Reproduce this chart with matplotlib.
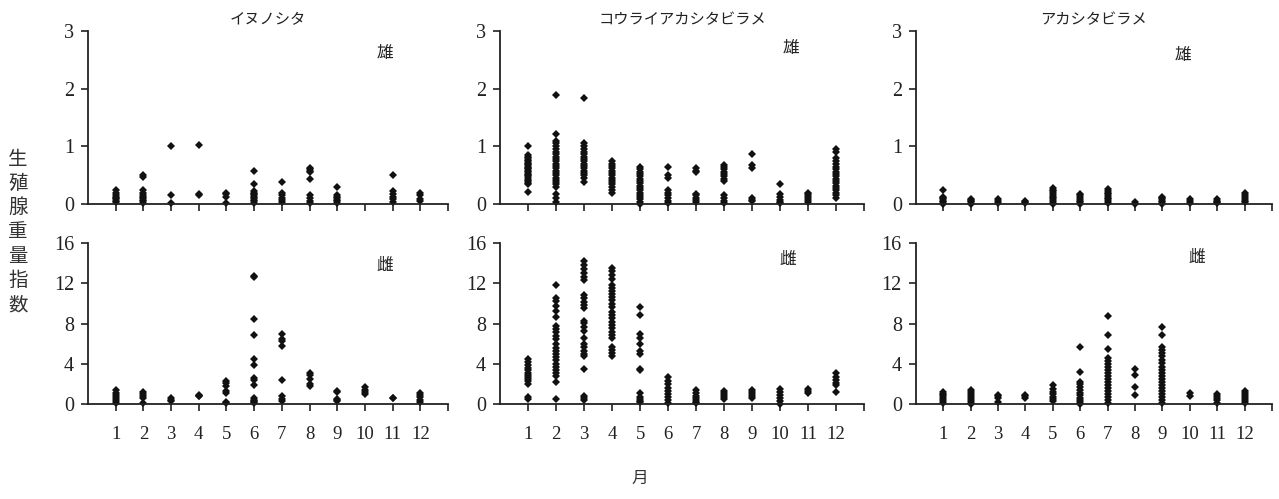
import numpy as np
import matplotlib
matplotlib.use('Agg')
import matplotlib.pyplot as plt

# values, one list per month (1..12)
months = list(range(1, 13))
species = ['イヌノシタ', 'コウライアカシタビラメ', 'アカシタビラメ']

inu_male = [
    [0.25, 0.2, 0.15, 0.12, 0.1, 0.08, 0.05, 0.03],
    [0.5, 0.47, 0.25, 0.2, 0.15, 0.12, 0.1, 0.07, 0.05, 0.02],
    [1.0, 0.15, 0.02],
    [1.03, 0.18, 0.15],
    [0.2, 0.17, 0.12, 0.02],
    [0.58, 0.35, 0.22, 0.2, 0.17, 0.15, 0.12, 0.1, 0.07, 0.05, 0.02],
    [0.38, 0.2, 0.15, 0.1, 0.07, 0.03],
    [0.62, 0.6, 0.57, 0.55, 0.43, 0.15, 0.1, 0.05, 0.02],
    [0.3, 0.15, 0.12, 0.1, 0.07, 0.05, 0.02],
    [],
    [0.5, 0.22, 0.18, 0.13, 0.08, 0.03],
    [0.2, 0.15, 0.08, 0.05],
]
inu_female = [
    [1.4, 1.1, 0.9, 0.7, 0.5, 0.3, 0.1],
    [1.2, 1.0, 0.8, 0.6, 0.1],
    [0.6, 0.45, 0.3],
    [0.95, 0.85, 0.8],
    [2.3, 2.1, 1.8, 1.3, 1.1, 0.2, 0.1],
    [12.7, 12.6, 8.5, 6.9, 4.5, 3.9, 2.6, 2.4, 1.9, 0.6, 0.4, 0.3, 0.2, 0.1],
    [7.0, 6.5, 6.3, 5.8, 2.4, 0.8, 0.5, 0.3],
    [3.1, 2.9, 2.5, 2.0, 1.8],
    [1.3, 1.2, 0.5, 0.4, 0.3],
    [1.7, 1.4, 1.2, 1.0],
    [0.65, 0.6],
    [1.1, 0.9, 0.7, 0.4, 0.2],
]
kourai_male = [
    [1.0, 0.85, 0.82, 0.8, 0.77, 0.75, 0.72, 0.7, 0.68, 0.65, 0.62, 0.6, 0.58,
     0.55, 0.52, 0.5, 0.48, 0.45, 0.42, 0.4, 0.37, 0.35, 0.21],
    [1.89, 1.21, 1.1, 1.05, 1.0, 0.95, 0.9, 0.86, 0.82, 0.78, 0.74, 0.7, 0.66,
     0.62, 0.58, 0.54, 0.5, 0.46, 0.42, 0.38, 0.34, 0.3, 0.18, 0.1, 0.03],
    [1.84, 1.05, 1.0, 0.95, 0.9, 0.86, 0.82, 0.78, 0.74, 0.7, 0.66, 0.62, 0.58,
     0.54, 0.5, 0.45, 0.38],
    [0.75, 0.7, 0.66, 0.62, 0.58, 0.54, 0.5, 0.46, 0.42, 0.38, 0.34, 0.3, 0.25, 0.2],
    [0.65, 0.6, 0.56, 0.52, 0.48, 0.44, 0.4, 0.36, 0.32, 0.28, 0.24, 0.2, 0.16,
     0.12, 0.08, 0.04, 0.01],
    [0.65, 0.5, 0.45, 0.25, 0.2, 0.15, 0.1, 0.05, 0.02],
    [0.62, 0.57, 0.55, 0.18, 0.15, 0.1, 0.07, 0.04],
    [0.68, 0.65, 0.6, 0.56, 0.52, 0.48, 0.44, 0.4, 0.15, 0.1, 0.05, 0.02],
    [0.87, 0.67, 0.62, 0.1, 0.07, 0.05],
    [0.35, 0.18, 0.12, 0.07, 0.04, 0.02],
    [0.2, 0.17, 0.14, 0.1, 0.07, 0.04],
    [0.95, 0.9, 0.8, 0.75, 0.7, 0.65, 0.6, 0.56, 0.52, 0.48, 0.44, 0.4, 0.36,
     0.32, 0.28, 0.24, 0.2, 0.15, 0.1],
]
kourai_female = [
    [4.5, 4.2, 3.9, 3.6, 3.4, 3.1, 2.9, 2.7, 2.5, 2.3, 2.0, 0.7, 0.5],
    [11.8, 10.5, 10.2, 9.7, 9.3, 8.7, 7.8, 7.5, 7.2, 6.8, 6.5, 6.0, 5.6, 5.3,
     5.0, 4.7, 4.4, 4.0, 3.7, 3.4, 3.1, 2.8, 2.2, 0.5],
    [14.2, 13.8, 13.4, 13.0, 12.6, 12.3, 10.8, 10.5, 10.1, 9.8, 9.5, 8.3, 8.1,
     7.7, 7.3, 6.6, 6.0, 5.7, 5.3, 5.0, 4.8, 3.5, 0.8, 0.6, 0.4],
    [13.5, 13.2, 12.8, 12.4, 11.8, 11.5, 11.2, 10.9, 10.6, 10.3, 9.9, 9.6, 9.2,
     8.9, 8.6, 8.2, 7.9, 7.6, 7.2, 6.9, 6.6, 5.7, 5.4, 5.1, 4.8],
    [9.6, 8.9, 7.0, 6.6, 6.0, 5.3, 5.0, 3.5, 3.4, 1.1, 0.7, 0.5, 0.3, 0.2],
    [2.7, 2.3, 2.0, 1.6, 1.3, 1.0, 0.7, 0.4, 0.1],
    [1.4, 1.1, 0.8, 0.6, 0.4, 0.2, 0.1],
    [1.3, 1.1, 0.9, 0.7, 0.5],
    [1.4, 1.2, 1.0, 0.8, 0.6],
    [1.5, 1.2, 0.9, 0.6, 0.3, 0.0],
    [1.5, 1.3, 1.1],
    [3.1, 2.7, 2.4, 2.1, 1.9, 1.2],
]
aka_male = [
    [0.25, 0.12, 0.1, 0.08, 0.05, 0.03, 0.01],
    [0.09, 0.07, 0.05, 0.03, 0.01],
    [0.08, 0.05, 0.02],
    [0.06, 0.04, 0.02],
    [0.28, 0.25, 0.22, 0.19, 0.16, 0.13, 0.1, 0.07, 0.04, 0.01],
    [0.18, 0.15, 0.12, 0.09, 0.06, 0.03, 0.01],
    [0.26, 0.23, 0.2, 0.17, 0.14, 0.11, 0.08, 0.05, 0.02],
    [0.03, 0.01],
    [0.12, 0.1, 0.08, 0.05, 0.03, 0.01],
    [0.08, 0.05, 0.02],
    [0.08, 0.06, 0.04, 0.02],
    [0.2, 0.16, 0.12, 0.09, 0.06, 0.03],
]
aka_female = [
    [1.2, 1.0, 0.9, 0.7, 0.5, 0.3, 0.1],
    [1.4, 1.2, 1.0, 0.8, 0.6, 0.4, 0.2, 0.0],
    [0.9, 0.8, 0.6, 0.2],
    [0.9, 0.8, 0.6],
    [1.9, 1.5, 1.2, 1.0, 0.7, 0.5, 0.3],
    [5.7, 3.2, 2.2, 2.0, 1.7, 1.4, 1.1, 0.9, 0.6, 0.4, 0.2, 0.0],
    [8.8, 6.9, 5.5, 4.6, 4.3, 4.0, 3.7, 3.4, 3.1, 2.8, 2.5, 2.2, 1.9, 1.6, 1.3,
     1.0, 0.7, 0.4, 0.1],
    [3.5, 2.9, 1.7, 0.95],
    [7.7, 6.9, 5.7, 5.4, 5.1, 4.8, 4.4, 4.1, 3.7, 3.4, 3.1, 2.8, 2.5, 2.2, 1.9,
     1.6, 1.3, 1.0, 0.7, 0.4, 0.1],
    [1.1, 0.8],
    [1.0, 0.8, 0.6, 0.4, 0.1],
    [1.3, 1.1, 0.9, 0.7, 0.5, 0.3, 0.1],
]

male_ticks = [0, 1, 2, 3]
female_ticks = [0, 4, 8, 12, 16]

plt.rcParams['font.family'] = ['Liberation Serif', 'Noto Sans CJK JP']
jp = ['Noto Sans CJK JP', 'DejaVu Sans']

fig = plt.figure(figsize=(12.79, 4.99), dpi=100)

lefts = [0.0688, 0.391, 0.716]
widths = [0.2815, 0.2846, 0.2785]
rows = [(0.591, 0.347), (0.190, 0.323)]
sex_pos = [[(0.825, 0.87), (0.80, 0.90), (0.75, 0.86)],
           [(0.825, 0.86), (0.79, 0.90), (0.79, 0.91)]]

panels = [[inu_male, kourai_male, aka_male], [inu_female, kourai_female, aka_female]]

for r in range(2):
    for c in range(3):
        ax = fig.add_axes([lefts[c], rows[r][0], widths[c], rows[r][1]])
        data = panels[r][c]
        for m, vals in zip(months, data):
            if not vals:
                continue
            ax.plot(np.full(len(vals), m), vals, 'D', color='#111111',
                    markersize=4.2, markeredgewidth=0, clip_on=False)
        ax.set_xlim(0, 13)
        ticks = male_ticks if r == 0 else female_ticks
        ax.set_ylim(0, ticks[-1])
        ax.set_yticks(ticks)
        ax.set_xticks(months + [13])
        if r == 1:
            ax.set_xticklabels([str(m) for m in months] + [''])
        else:
            ax.set_xticklabels([])
        for s in ['top', 'right']:
            ax.spines[s].set_visible(False)
        for s in ['left', 'bottom']:
            ax.spines[s].set_linewidth(1.3)
            ax.spines[s].set_color('#222222')
        ax.tick_params(axis='y', direction='out', length=5, width=1.2,
                       labelsize=14.5, pad=5, colors='#222222')
        ax.tick_params(axis='x', direction='out', length=5, width=1.2,
                       labelsize=13.5, pad=11, colors='#222222')
        ax.text(*sex_pos[r][c], '雄' if r == 0 else '雌', transform=ax.transAxes,
                ha='center', va='center', fontsize=12, family=jp, color='#222222')
        if r == 0:
            ax.set_title(species[c], family=jp, fontsize=11, pad=5, color='#222222')

fig.text(0.014, 1 - 232 / 499, '\n'.join('生殖腺重量指数'), ha='center', va='center',
         fontsize=14, linespacing=1.2, family=jp, color='#333333')
fig.text(640 / 1279, 1 - 478 / 499, '月', ha='center', va='center',
         fontsize=12, family=jp, color='#333333')

fig.savefig('out.png', dpi=100)
